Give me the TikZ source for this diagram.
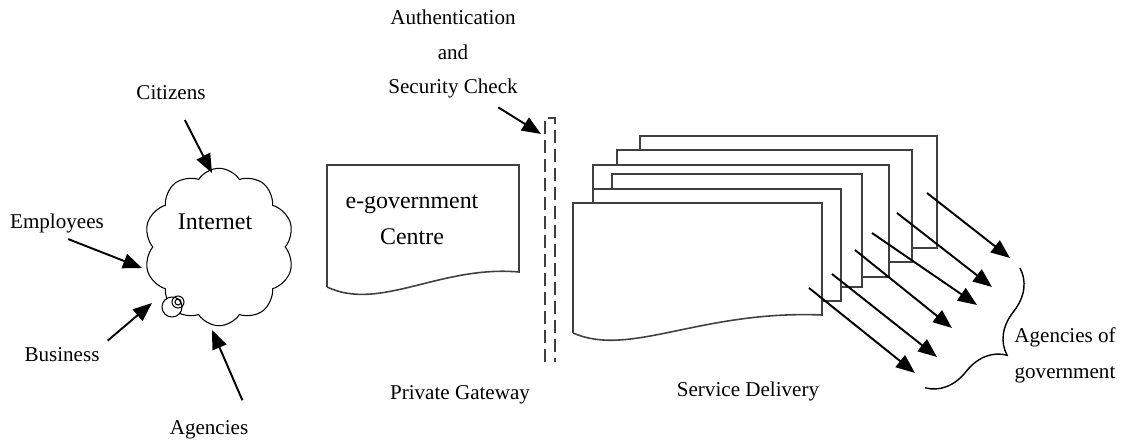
\documentclass[tikz,border=0pt]{standalone}
\usepackage{fontspec}
\setmainfont{Liberation Serif}
\usetikzlibrary{arrows.meta,shapes.symbols,decorations.pathreplacing,calc}

\tikzset{
  lbl/.style={font=\fontsize{12}{19.5}\selectfont, align=center, inner sep=1pt},
  biglbl/.style={font=\fontsize{13.6}{20.5}\selectfont, align=center, inner sep=1pt},
  arr/.style={-{Triangle[length=0.38cm,width=0.3cm]}, line width=1.1pt},
  page/.style={draw=black!75, line width=0.9pt, fill=white},
  gate/.style={draw=black!75, line width=0.9pt, dash pattern=on 0.26cm off 0.12cm},
}

\begin{document}
\begin{tikzpicture}[x=0.02cm,y=-0.02cm]
\useasboundingbox (0,0) rectangle (1125,445);

% internet cloud
\node[cloud, cloud puffs=10, cloud puff arc=115, cloud ignores aspect, draw, line width=0.6pt,
      minimum width=3.0cm, minimum height=3.15cm] (inet) at (219,247) {};
\draw[fill=white, line width=0.6pt] (172,307) circle (10);
\draw[line width=0.6pt] (178,302) circle (6);
\draw[line width=0.6pt] (178,302) circle (3);
\node[biglbl] (inettext) at (215,222) {Internet};

% users of the internet
\node[lbl] (citizens) at (171,93) {Citizens};
\node[lbl] (employees) at (57,223) {Employees};
\node[lbl] (business) at (62,355) {Business};
\node[lbl] (agencies) at (209,430) {Agencies};
\coordinate (tcit) at (212,173);
\coordinate (temp) at (142,268);
\coordinate (tbus) at (152,303);
\coordinate (tage) at (212,330);
\draw[arr, shorten <=0.4cm] (citizens) -- (tcit);
\draw[arr, shorten <=0.24cm] (employees.south) -- (temp);
\draw[arr, shorten <=0.16cm] (business.north east) -- (tbus);
\draw[arr, shorten <=0.4cm] (agencies.north east) -- (tage);

% e-government centre
\draw[page] (327,287) -- (327,165) -- (519,165) -- (519,272)
  .. controls (440,265) and (380,312) .. (327,287);
\node[biglbl] (egov) at (412,220) {e-government\\Centre};

% private gateway
\draw[gate] (545,362) -- (545,118) -- (555,118) -- (555,362);
\coordinate (gtop) at (541,134);
\node[lbl] (auth) at (453,54) {Authentication\\and\\Security Check};
\draw[arr, shorten <=0.28cm] ($(auth.south)!0.5!(auth.south east)$) -- (gtop);
\node[lbl] (gateway) at (460,395) {Private Gateway};

% service delivery pages, back to front
\foreach \l/\t/\r/\b in {640/136/937/248, 617/150/912/262, 593/165/889/277,
                         612/174/862/287, 593/189/841/301}
  \draw[page] (\l,\t) rectangle (\r,\b);
\draw[page] (573,333) -- (573,203) -- (822,203) -- (822,315)
  .. controls (700,310) and (630,358) .. (573,333);
\node[lbl] (delivery) at (748,391) {Service Delivery};

% deliveries to the agencies
\foreach \i/\sx/\sy/\ex/\ey in {1/927/193/1010/258, 2/897/213/992/287, 3/872/233/977/305,
                                4/855/250/952/328, 5/832/274/937/357, 6/809/288/915/373}{
  \coordinate (s\i) at (\sx,\sy);
  \coordinate (e\i) at (\ex,\ey);
  \draw[arr] (s\i) -- (e\i);
}

% agencies of government
\coordinate (btop) at (1020,268);
\coordinate (bbot) at (925,388);
\draw[decorate, decoration={brace, amplitude=0.88cm}, line width=0.8pt] (btop) -- (bbot);
\node[lbl, font=\fontsize{12}{20.5}\selectfont] (agov) at (1065,355) {Agencies of\\government};
\end{tikzpicture}
\end{document}
